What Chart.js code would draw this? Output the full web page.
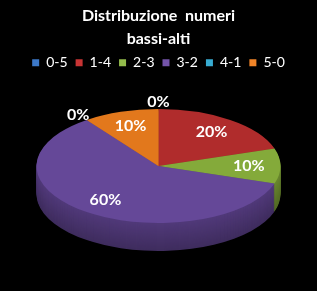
<!DOCTYPE html>
<html>
<head>
<meta charset="utf-8">
<script src="https://cdn.jsdelivr.net/npm/chart.js@4.4.0/dist/chart.umd.min.js"></script>
<style>
  html, body { margin: 0; background: #000; }
  #wrap { width: 317px; height: 291px; }
</style>
</head>
<body>
<div id="wrap"><canvas id="grafico"></canvas></div>
<script>
const categorie = ['0-5', '1-4', '2-3', '3-2', '4-1', '5-0'];
const percentuali = [0, 20, 10, 60, 0, 10];
const titolo = ['Distribuzione  numeri', 'bassi-alti'];

const colori = ['#3c78c8', '#c83434', '#94bc4c', '#7454aa', '#38acd2', '#f08428'];
const coloriTop = ['#3466b0', '#b02c2c', '#84aa3a', '#654898', '#2c98be', '#e2781c'];

// schiaccia la torta in un'ellisse e aggiunge lo spessore (finto 3D)
const torta3d = {
    id: 'torta3d',
    beforeDatasetsDraw(chart) {
        const ctx = chart.ctx;
        const archi = chart.getDatasetMeta(0).data;
        const R = archi[0].outerRadius, x0 = archi[0].x, y0 = archi[0].y;
        const cx = chart.width / 2, cy = 166, rx = 122, ry = 57, spessore = 28;

        function disegna(dy, colore) {
            ctx.save();
            ctx.translate(cx, cy + dy);
            ctx.scale(rx / R, ry / R);
            ctx.translate(-x0, -y0);
            archi.forEach((a, i) => {
                const orig = a.options;
                const o = Object.create(orig);
                o.backgroundColor = colore(i);
                o.borderWidth = 0;
                a.options = o;
                a.draw(ctx);
                a.options = orig;
            });
            ctx.restore();
        }

        for (let d = spessore; d >= 1; d--) {
            const k = 0.8 - 0.18 * d / spessore;
            disegna(d, i => Chart.helpers.color(coloriTop[i]).darken(1 - k).rgbString());
        }
        disegna(0, i => coloriTop[i]);
        return false;
    },
    afterDraw(chart) {
        const ctx = chart.ctx;
        const archi = chart.getDatasetMeta(0).data;
        const cx = chart.width / 2, cy = 166, rx = 122, ry = 57;
        ctx.save();
        ctx.fillStyle = '#fff';
        ctx.font = 'bold 16px Lato';
        ctx.textAlign = 'center';
        ctx.textBaseline = 'middle';
        archi.forEach((a, i) => {
            const mid = (a.startAngle + a.endAngle) / 2;
            const f = percentuali[i] > 0 ? 0.74 : 1.12;
            ctx.fillText(percentuali[i] + '%', cx + rx * f * Math.cos(mid), cy + ry * f * Math.sin(mid));
        });
        ctx.restore();
    }
};

new Chart(document.getElementById('grafico'), {
    type: 'pie',
    data: {
        labels: categorie,
        datasets: [{
            data: percentuali,
            backgroundColor: colori,
            borderWidth: 0
        }]
    },
    options: {
        responsive: true,
        maintainAspectRatio: false,
        animation: false,
        events: [],
        plugins: {
            title: {
                display: true,
                text: titolo,
                color: '#fff',
                font: { family: 'Lato', size: 16, weight: 'bold', lineHeight: 1.4 },
                padding: { top: 5, bottom: -2 }
            },
            legend: {
                position: 'top',
                labels: {
                    color: '#fff',
                    font: { family: 'Lato', size: 14 },
                    boxWidth: 7,
                    boxHeight: 7,
                    padding: 8
                }
            },
            tooltip: { enabled: false }
        }
    },
    plugins: [torta3d]
});
</script>
</body>
</html>
